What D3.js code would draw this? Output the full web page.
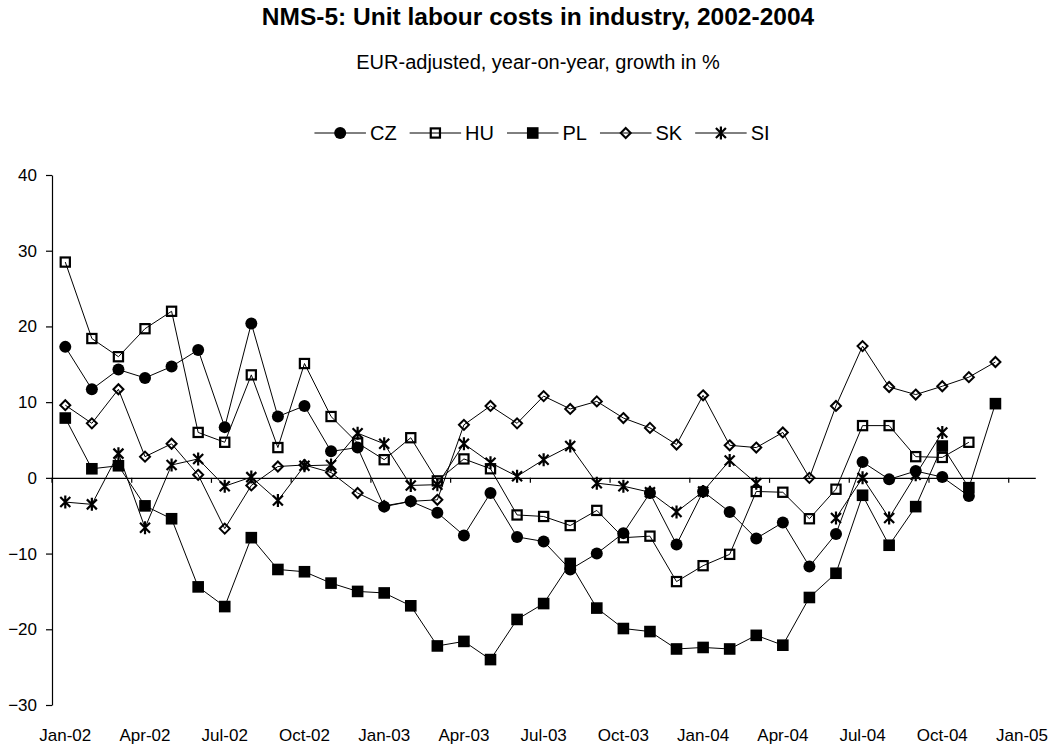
<!DOCTYPE html>
<html>
<head>
<meta charset="utf-8">
<script src="https://cdn.jsdelivr.net/npm/d3@7"></script>
<style>
  html, body { margin: 0; padding: 0; background: #fff; }
  svg { display: block; font-family: "Liberation Sans", Arial, sans-serif; }
</style>
</head>
<body>
<svg id="chart" width="1055" height="747"></svg>
<script>
const categories = ["Jan-02","Feb-02","Mar-02","Apr-02","May-02","Jun-02","Jul-02","Aug-02","Sep-02","Oct-02","Nov-02","Dec-02",
  "Jan-03","Feb-03","Mar-03","Apr-03","May-03","Jun-03","Jul-03","Aug-03","Sep-03","Oct-03","Nov-03","Dec-03",
  "Jan-04","Feb-04","Mar-04","Apr-04","May-04","Jun-04","Jul-04","Aug-04","Sep-04","Oct-04","Nov-04","Dec-04","Jan-05"];
const tickLabels = ["Jan-02","Apr-02","Jul-02","Oct-02","Jan-03","Apr-03","Jul-03","Oct-03","Jan-04","Apr-04","Jul-04","Oct-04","Jan-05"];
const yTicks = [-30, -20, -10, 0, 10, 20, 30, 40];
const seriesNames = ["CZ", "HU", "PL", "SK", "SI"];

const cz = [17.3, 11.7, 14.3, 13.2, 14.7, 16.9, 6.7, 20.4, 8.1, 9.5, 3.5, 4.0, -3.8, -3.1, -4.6, -7.6, -2.0, -7.8, -8.4, -12.1, -10.0, -7.3, -2.0, -8.8, -1.8, -4.5, -8.0, -5.9, -11.7, -7.4, 2.1, -0.2, 0.9, 0.1, -2.4, null];
const hu = [28.5, 18.4, 16.0, 19.7, 22.0, 6.0, 4.7, 13.6, 4.0, 15.1, 8.1, 4.6, 2.4, 5.3, -0.4, 2.5, 1.2, -4.9, -5.1, -6.3, -4.3, -7.9, -7.7, -13.7, -11.6, -10.1, -1.8, -1.9, -5.4, -1.5, 6.9, 6.9, 2.8, 2.7, 4.7, null];
const pl = [7.9, 1.2, 1.6, -3.7, -5.4, -14.4, -17.0, -7.9, -12.1, -12.4, -13.9, -15.0, -15.2, -16.9, -22.2, -21.6, -24.0, -18.7, -16.6, -11.3, -17.2, -19.9, -20.3, -22.6, -22.4, -22.6, -20.8, -22.1, -15.8, -12.6, -2.3, -8.9, -3.8, 4.2, -1.3, 9.8];
const sk = [9.6, 7.2, 11.7, 2.8, 4.5, 0.4, -6.7, -1.0, 1.5, 1.7, 0.7, -2.0, -3.7, -3.1, -2.9, 7.0, 9.5, 7.2, 10.8, 9.1, 10.1, 7.9, 6.6, 4.4, 10.9, 4.3, 4.0, 6.0, 0.0, 9.5, 17.4, 12.0, 11.0, 12.1, 13.3, 15.3];
const si = [-3.2, -3.5, 3.2, -6.6, 1.7, 2.5, -1.1, 0.1, -3.0, 1.6, 1.7, 5.9, 4.5, -1.0, -0.9, 4.5, 2.0, 0.2, 2.4, 4.2, -0.7, -1.1, -1.9, -4.5, -1.8, 2.3, -0.7, null, null, -5.3, 0.0, -5.3, 0.4, 6.0, null, null];

const seriesValues = [cz, hu, pl, sk, si];
const markerTypes = ["circle", "openSquare", "filledSquare", "openDiamond", "star"];

const svg = d3.select("#chart");
const plot = { left: 52, right: 1035.3, top: 175, bottom: 705 };

const x = d3.scaleBand().domain(categories).range([plot.left, plot.right]).padding(0);
const bw = x.bandwidth();
const cx = c => x(c) + bw / 2;
const y = d3.scaleLinear().domain([-30, 40]).range([plot.bottom, plot.top]);

// Titles
svg.append("text").attr("x", 538).attr("y", 25).attr("text-anchor", "middle")
  .attr("font-size", 24.5).attr("font-weight", "bold").attr("fill", "#000")
  .text("NMS-5: Unit labour costs in industry, 2002-2004");
svg.append("text").attr("x", 538).attr("y", 68.5).attr("text-anchor", "middle")
  .attr("font-size", 20).attr("fill", "#000")
  .text("EUR-adjusted, year-on-year, growth in %");

// Y axis
const yAxis = d3.axisLeft(y).tickValues(yTicks).tickSize(6).tickSizeOuter(0).tickPadding(9).tickFormat(d3.format("d"));
const gy = svg.append("g").attr("transform", `translate(${plot.left},0)`).call(yAxis);
gy.select(".domain").attr("stroke", "#000").attr("stroke-width", 1.2);
gy.selectAll(".tick line").attr("stroke", "#000").attr("stroke-width", 1.2);
gy.selectAll(".tick text").attr("font-size", 17).attr("fill", "#000").attr("font-family", "Liberation Sans, Arial, sans-serif");

// X axis line at zero with ticks between categories
const xAxis = d3.axisBottom(x).tickValues(tickLabels).tickSize(5).tickSizeOuter(0).tickFormat("");
const gx = svg.append("g").attr("transform", `translate(0,${y(0)})`).call(xAxis);
gx.select(".domain").attr("stroke", "#000").attr("stroke-width", 1.2);
gx.selectAll(".tick line").attr("stroke", "#000").attr("stroke-width", 1.2)
  .attr("x1", -bw / 2).attr("x2", -bw / 2);

// X labels at the bottom
const xLab = d3.axisBottom(x).tickValues(tickLabels).tickSize(0).tickPadding(0);
const gxl = svg.append("g").attr("transform", `translate(0,${plot.bottom + 24})`).call(xLab);
gxl.select(".domain").remove();
gxl.selectAll(".tick text").attr("font-size", 17).attr("fill", "#000").attr("dy", "0.71em")
  .attr("font-family", "Liberation Sans, Arial, sans-serif");

// Marker drawing
function drawMarker(g, type) {
  if (type === "circle") {
    g.append("circle").attr("r", 6).attr("fill", "#000");
  } else if (type === "openSquare") {
    g.append("rect").attr("x", -4.6).attr("y", -4.6).attr("width", 9.2).attr("height", 9.2)
      .attr("fill", "none").attr("stroke", "#000").attr("stroke-width", 2.2);
  } else if (type === "filledSquare") {
    g.append("rect").attr("x", -5.8).attr("y", -5.8).attr("width", 11.6).attr("height", 11.6).attr("fill", "#000");
  } else if (type === "openDiamond") {
    g.append("path").attr("d", "M0,-5 L5,0 L0,5 L-5,0 Z")
      .attr("fill", "none").attr("stroke", "#000").attr("stroke-width", 2);
  } else if (type === "star") {
    g.append("path").attr("d", "M-5,-5 L5,5 M-5,5 L5,-5 M0,-6.5 L0,6.5")
      .attr("fill", "none").attr("stroke", "#000").attr("stroke-width", 2.2);
  }
}

// Series
const line = d3.line()
  .defined(d => d.v !== null)
  .x(d => cx(d.c))
  .y(d => y(d.v));

seriesNames.forEach((name, si_) => {
  const data = seriesValues[si_].map((v, i) => ({ c: categories[i], v: v }));
  const g = svg.append("g").attr("class", "series-" + name);
  g.append("path").datum(data).attr("d", line)
    .attr("fill", "none").attr("stroke", "#000").attr("stroke-width", 1);
  data.filter(d => d.v !== null).forEach(d => {
    const mg = g.append("g").attr("transform", `translate(${cx(d.c)},${y(d.v)})`);
    drawMarker(mg, markerTypes[si_]);
  });
});

// Legend
const legendY = 133;
const lineLen = 51.5, textGap = 4, itemGap = 13, legendCenter = 542;
const lg = svg.append("g");
const items = seriesNames.map((name, i) => {
  const ig = lg.append("g");
  ig.append("line").attr("x1", 0).attr("x2", lineLen).attr("y1", legendY).attr("y2", legendY)
    .attr("stroke", "#000").attr("stroke-width", 1);
  const mg = ig.append("g").attr("transform", `translate(${lineLen / 2},${legendY})`);
  drawMarker(mg, markerTypes[i]);
  const t = ig.append("text").attr("x", lineLen + textGap).attr("y", legendY).attr("dy", "0.35em")
    .attr("font-size", 20).attr("fill", "#000").text(name);
  return { g: ig, w: lineLen + textGap + t.node().getComputedTextLength() };
});
const totalW = d3.sum(items, d => d.w) + itemGap * (items.length - 1);
let xpos = legendCenter - totalW / 2;
items.forEach(it => { it.g.attr("transform", `translate(${xpos},0)`); xpos += it.w + itemGap; });
</script>
</body>
</html>
